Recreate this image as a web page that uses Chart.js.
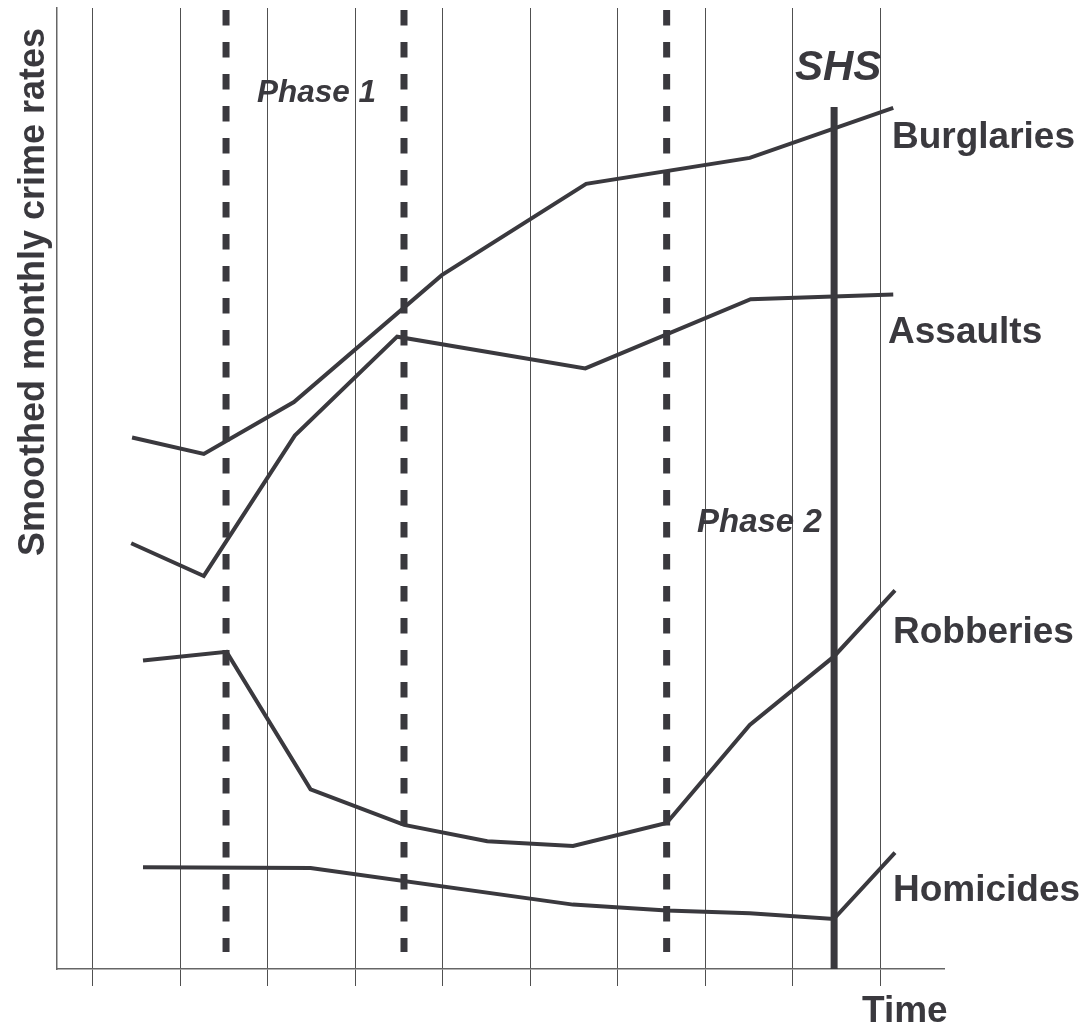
<!DOCTYPE html>
<html>
<head>
<meta charset="utf-8">
<script src="https://cdn.jsdelivr.net/npm/chart.js@4/dist/chart.umd.min.js"></script>
<style>
  html, body { margin: 0; padding: 0; background: #ffffff; }
  #wrap { width: 1089px; height: 1029px; position: relative; }
</style>
</head>
<body>
<div id="wrap"><canvas id="c"></canvas></div>
<script>
// ---- data ----
const xTicks = [1, 2, 3, 4, 5, 6, 7, 8, 9, 10];

const seriesNames = ['Burglaries', 'Assaults', 'Robberies', 'Homicides'];

const burglariesX = [1.45, 2.27, 3.30, 4.99, 6.64, 8.51, 10.15];
const burglariesY = [55.3, 53.6, 59.0, 72.2, 81.7, 84.4, 89.6];

const assaultsX = [1.44, 2.27, 3.31, 4.48, 6.63, 8.52, 10.15];
const assaultsY = [44.3, 40.9, 55.5, 65.8, 62.5, 69.7, 70.2];

const robberiesX = [1.575, 2.53, 3.49, 4.56, 5.51, 6.49, 7.56, 8.51, 9.47, 10.17];
const robberiesY = [32.1, 33.0, 18.7, 15.0, 13.3, 12.8, 15.2, 25.4, 32.5, 39.4];

const homicidesX = [1.575, 3.49, 6.49, 7.56, 8.51, 9.47, 10.17];
const homicidesY = [10.6, 10.5, 6.7, 6.1, 5.8, 5.2, 12.1];

const phaseLinesX = [2.524, 4.558, 7.56];
const phaseLineRange = [99.8, 1.77];
const shsX = 9.474;
const shsRange = [89.7, 0];

const phaseLabels = ['Phase 1', 'Phase 2'];
const shsLabel = 'SHS';
const yTitle = 'Smoothed monthly crime rates';
const xTitle = 'Time';

// ---- build datasets ----
const INK = '#3a393e';
function pts(xs, ys) { return xs.map((x, i) => ({ x: x, y: ys[i] })); }

const datasets = [
  { label: seriesNames[0], data: pts(burglariesX, burglariesY) },
  { label: seriesNames[1], data: pts(assaultsX, assaultsY) },
  { label: seriesNames[2], data: pts(robberiesX, robberiesY) },
  { label: seriesNames[3], data: pts(homicidesX, homicidesY) }
].map(d => Object.assign(d, {
  borderColor: INK, borderWidth: 4, pointRadius: 0, tension: 0, fill: false
}));

phaseLinesX.forEach((x, i) => {
  datasets.push({
    label: 'phase' + i,
    data: phaseLineRange.map(y => ({ x: x, y: y })),
    borderColor: INK, borderWidth: 7, borderDash: [15.5, 16.5],
    pointRadius: 0, fill: false, borderCapStyle: 'butt'
  });
});
datasets.push({
  label: 'SHS',
  data: shsRange.map(y => ({ x: shsX, y: y })),
  borderColor: INK, borderWidth: 7, pointRadius: 0, fill: false
});

// ---- text plugin ----
const textPlugin = {
  id: 'texts',
  afterDraw(chart) {
    const ctx = chart.ctx;
    ctx.save();
    ctx.fillStyle = INK;
    ctx.textBaseline = 'alphabetic';
    ctx.textAlign = 'left';

    // y axis title (rotated)
    ctx.save();
    ctx.font = 'bold 36px "Liberation Sans", Arial, sans-serif';
    ctx.translate(44, 292);
    ctx.rotate(-Math.PI / 2);
    ctx.textAlign = 'center';
    ctx.fillText(yTitle, 0, 0);
    ctx.restore();

    // series labels
    ctx.font = 'bold 37px "Liberation Sans", Arial, sans-serif';
    ctx.fillText(seriesNames[0], 892, 148);
    ctx.fillText(seriesNames[1], 888, 343);
    ctx.fillText(seriesNames[2], 893, 643);
    ctx.fillText(seriesNames[3], 893, 901);
    ctx.fillText(xTitle, 862, 1022);

    // phase labels
    ctx.font = 'italic bold 31.5px "Liberation Sans", Arial, sans-serif';
    ctx.fillText(phaseLabels[0], 257, 102);
    ctx.font = 'italic bold 33px "Liberation Sans", Arial, sans-serif';
    ctx.fillText(phaseLabels[1], 697, 532);

    ctx.font = 'italic bold 42px "Liberation Sans", Arial, sans-serif';
    ctx.fillText(shsLabel, 795, 80);
    ctx.restore();
  }
};

new Chart(document.getElementById('c'), {
  type: 'line',
  data: { datasets: datasets },
  options: {
    responsive: true,
    maintainAspectRatio: false,
    animation: false,
    events: [],
    layout: { padding: { left: 57, top: 8, right: 145, bottom: 43 } },
    plugins: { legend: { display: false }, tooltip: { enabled: false }, title: { display: false } },
    elements: { line: { borderJoinStyle: 'miter' } },
    scales: {
      x: {
        type: 'linear',
        min: 0.592,
        max: 10.73,
        afterBuildTicks: (scale) => { scale.ticks = xTicks.map(v => ({ value: v })); },
        ticks: { display: false },
        grid: { display: true, color: '#505050', lineWidth: 1, drawTicks: true, tickLength: 17, tickColor: '#505050' },
        border: { display: true, color: '#666666', width: 1.5 }
      },
      y: {
        type: 'linear',
        min: 0,
        max: 100,
        ticks: { display: false },
        grid: { display: false, drawTicks: false, tickLength: 0 },
        border: { display: true, color: '#666666', width: 1.5 }
      }
    }
  },
  plugins: [textPlugin]
});
</script>
</body>
</html>
